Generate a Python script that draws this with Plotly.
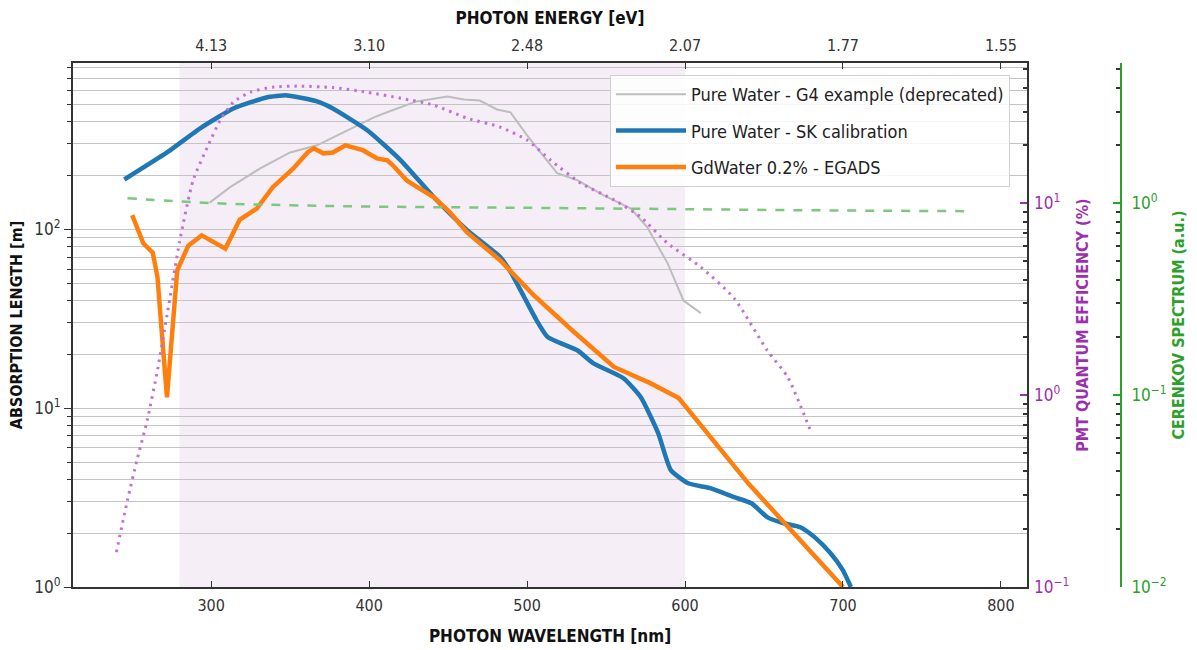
import plotly.graph_objects as go

# ---- data ----
wl_g4 = [299, 312, 331, 350, 367, 386, 403, 413, 430, 449.5, 460, 470, 481, 489.5, 500, 508.5, 519, 532, 548.5, 565.5, 576, 589, 599, 610]
abs_g4 = [141, 172, 219, 269, 295, 357, 423, 457, 519, 553, 532, 525, 468, 451, 335, 269, 206, 188, 155, 131, 103, 64.5, 40, 34]

wl_sk = [245, 272, 293, 314, 335, 348, 367, 377, 399, 420, 441, 462, 483, 490, 498, 506, 513, 532, 542, 561, 572, 583, 591, 602, 616, 631, 642, 652, 662, 673, 682, 692, 700, 705]
abs_sk = [190, 269, 367, 474, 546, 561, 519, 474, 357, 243, 151, 99, 70, 57, 42, 31, 25, 21, 17.8, 14.7, 11.5, 7.25, 4.5, 3.8, 3.57, 3.18, 2.94, 2.46, 2.28, 2.16, 1.9, 1.55, 1.24, 1.0]

wl_gd = [250, 257, 263, 266, 268, 272, 278.5, 285.5, 294, 309, 318, 329, 339, 352, 361, 365, 371, 377, 385, 396, 405, 411.5, 415, 424, 432, 441, 451, 462, 483, 504, 529, 555, 578, 596, 640, 700]
abs_gd = [120, 83.5, 74, 54, 32, 11.5, 59, 81, 92.5, 78, 113, 131, 172, 219, 269, 284, 266, 269, 295, 277, 249, 243, 228, 187, 169, 151, 125, 96, 67, 43, 27, 17, 13.8, 11.4, 3.8, 1.0]

wl_qe = [240, 247, 253, 259.5, 266, 272, 280, 288.6, 297.5, 305.7, 314, 325, 339, 356, 377, 399, 420, 441, 462, 483, 500, 515, 534, 555, 572, 589, 610, 631, 652, 665, 680]
qe = [0.152, 0.284, 0.458, 0.74, 1.35, 2.6, 6.3, 13.2, 19.5, 27, 33.6, 37.9, 40.2, 40.7, 40, 37.8, 35.2, 32.4, 27.7, 24.9, 21.3, 16.7, 12.7, 10.4, 8.45, 6.17, 4.64, 3.2, 1.71, 1.24, 0.634]

wl_ck = [247, 300, 350, 400, 500, 600, 700, 780]
ck = [1.06, 1.0, 0.975, 0.96, 0.945, 0.93, 0.915, 0.908]

wl_ticks = [300, 400, 500, 600, 700, 800]
energy_labels = ["4.13", "3.10", "2.48", "2.07", "1.77", "1.55"]
qe_band = [280, 600]

FONT = "Liberation Sans Narrow, DejaVu Sans Condensed, Roboto, sans-serif"
DARK = "#333333"
PURPLE = "#9b2fae"
GREEN = "#2ca02c"


def log_minor(lo, hi):
    vals = []
    for e in range(lo, hi + 1):
        for m in range(2, 10):
            vals.append(m * 10 ** e)
    return vals


def dec_labels(lo, hi):
    vals, txt = [], []
    for e in range(lo, hi + 1):
        vals.append(10 ** e)
        txt.append("10<sup>%s</sup>" % (str(e).replace("-", "\u2212")))
    return vals, txt


fig = go.Figure()

fig.add_trace(go.Scatter(x=wl_g4, y=abs_g4, mode="lines", name="Pure Water - G4 example (deprecated)",
                         legendgroup="a", line=dict(color="#bdbdbd", width=2)))
fig.add_trace(go.Scatter(x=wl_sk, y=abs_sk, mode="lines", name="Pure Water - SK calibration",
                         legendgroup="b", line=dict(color="#1f77b4", width=4.5, shape="spline", smoothing=0.5)))
fig.add_trace(go.Scatter(x=wl_gd, y=abs_gd, mode="lines", name="GdWater 0.2% - EGADS",
                         legendgroup="c", line=dict(color="#ff7f0e", width=4.5)))
fig.add_trace(go.Scatter(x=wl_qe, y=qe, mode="lines", yaxis="y2", showlegend=False,
                         line=dict(color="#c070d6", width=3, dash="2.5px,5px", shape="spline", smoothing=0.6)))
fig.add_trace(go.Scatter(x=wl_ck, y=ck, mode="lines", yaxis="y3", showlegend=False,
                         line=dict(color="#7cc87c", width=2.5, dash="dash", shape="spline")))
# invisible trace to carry the top energy axis
fig.add_trace(go.Scatter(x=wl_ticks, y=[1] * len(wl_ticks), xaxis="x2", mode="markers",
                         marker=dict(opacity=0), showlegend=False, hoverinfo="skip"))

fig.add_vrect(x0=qe_band[0], x1=qe_band[1], fillcolor="#f5eef7", line_width=0, layer="below")

XD = 954 / 1048
xr = [212.5, 816.5]

ly_v, ly_t = dec_labels(0, 2)
q_v, q_t = dec_labels(-1, 1)
c_v, c_t = dec_labels(-2, 0)

fig.update_layout(
    width=1197, height=650,
    margin=dict(l=73, r=76, t=63, b=63),
    paper_bgcolor="white", plot_bgcolor="white",
    font=dict(family=FONT, size=16, color=DARK),
    xaxis=dict(domain=[0, XD], range=xr, tickvals=wl_ticks, ticks="inside", ticklen=6, tickwidth=1.2,
               tickcolor=DARK, showgrid=False, showline=True, linecolor=DARK, linewidth=2, mirror=True,
               zeroline=False, tickfont=dict(size=16, color=DARK), ticklabelstandoff=3,
               title=dict(text="<b>PHOTON WAVELENGTH [nm]</b>", font=dict(size=17, color="#111"), standoff=16),
               automargin=False),
    xaxis2=dict(overlaying="x", side="top", range=xr, tickvals=wl_ticks, ticktext=energy_labels,
                ticks="inside", ticklen=6, tickwidth=1.2, tickcolor=DARK, showgrid=False, showline=False,
                zeroline=False, tickfont=dict(size=16, color=DARK), ticklabelstandoff=8,
                title=dict(text="<b>PHOTON ENERGY [eV]</b>", font=dict(size=17, color="#111"), standoff=6),
                automargin=False),
    yaxis=dict(type="log", range=[0, 2.93], tickvals=ly_v, ticktext=ly_t, ticks="outside", ticklen=7,
               tickwidth=1.2, tickcolor=DARK, showgrid=True, gridcolor="#c4c4c4", gridwidth=1,
               showline=True, linecolor=DARK, linewidth=2, mirror=True, zeroline=False,
               minor=dict(tickmode="array", tickvals=log_minor(0, 2), ticks="outside", ticklen=4,
                          tickcolor=DARK, showgrid=True, gridcolor="#c4c4c4", gridwidth=1),
               tickfont=dict(size=17, color=DARK),
               title=dict(text="<b>ABSORPTION LENGTH [m]</b>", font=dict(size=16, color="#111"), standoff=8),
               automargin=False),
    yaxis2=dict(type="log", overlaying="y", side="right", anchor="x", range=[-1, 1.73], tickvals=q_v,
                ticktext=q_t, ticks="inside", ticklen=7, tickwidth=1.5, tickcolor=PURPLE, showgrid=False,
                showline=False, zeroline=False, ticklabelstandoff=6,
                minor=dict(tickmode="array", tickvals=log_minor(-1, 1), ticks="inside", ticklen=4,
                           tickcolor=DARK, showgrid=False),
                tickfont=dict(size=17, color=PURPLE),
                title=dict(text="<b>PMT QUANTUM EFFICIENCY (%)</b>", font=dict(size=16, color=PURPLE), standoff=8),
                automargin=False),
    yaxis3=dict(type="log", overlaying="y", side="right", anchor="free", position=1.0, range=[-2, 0.73],
                tickvals=c_v, ticktext=c_t, ticks="inside", ticklen=7, tickwidth=1.5, tickcolor=GREEN,
                showgrid=False, showline=True, linecolor=GREEN, linewidth=2, zeroline=False,
                ticklabelstandoff=6,
                minor=dict(tickmode="array", tickvals=log_minor(-2, 0), ticks="inside", ticklen=4,
                           tickcolor=DARK, showgrid=False),
                tickfont=dict(size=17, color=GREEN),
                title=dict(text="<b>CERENKOV SPECTRUM (a.u.)</b>", font=dict(size=16, color=GREEN), standoff=6),
                automargin=False),
    legend=dict(x=(610 - 73) / 1048, y=(587 - 75) / 524, xanchor="left", yanchor="top",
                bgcolor="rgba(255,255,255,0.85)", bordercolor="#d0d0d0", borderwidth=1,
                font=dict(size=18, color="#222"), tracegroupgap=10, itemwidth=70),
    showlegend=True,
)

fig.write_html("out.html")
